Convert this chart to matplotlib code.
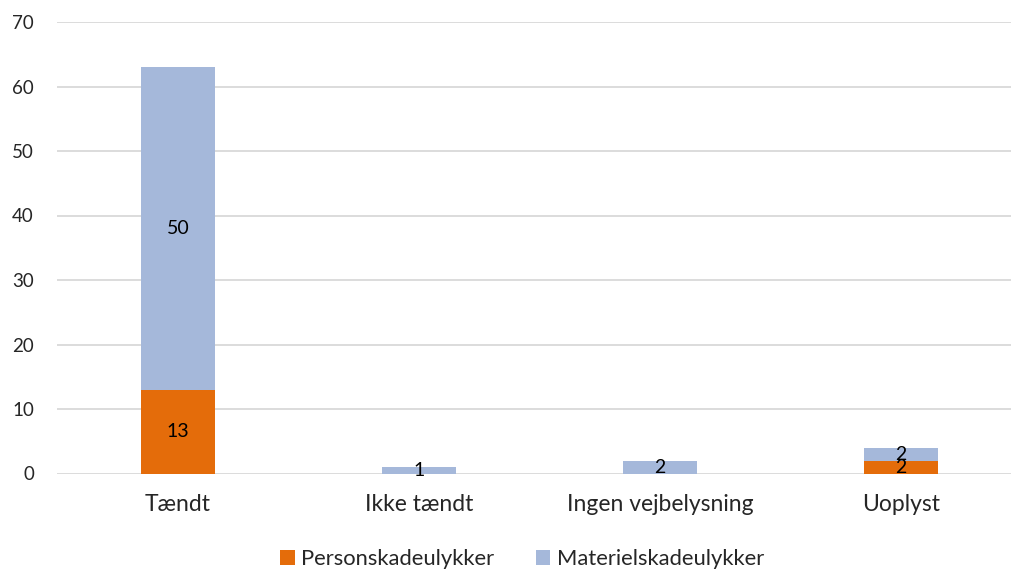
import matplotlib
matplotlib.use("Agg")
import matplotlib.pyplot as plt
import numpy as np

categories = ["Tændt", "Ikke tændt", "Ingen vejbelysning", "Uoplyst"]
person = [13, 0, 0, 2]
materiel = [50, 1, 2, 2]
series_names = ["Personskadeulykker", "Materielskadeulykker"]
yticks = [0, 10, 20, 30, 40, 50, 60, 70]

plt.rcParams['font.family'] = ['Lato', 'DejaVu Sans']
c_orange = "#E46C0A"
c_blue = "#A5B8DA"

fig = plt.figure(figsize=(10.12, 5.69), dpi=100)
ax = fig.add_axes([57.5/1012, 95.5/569, 964/1012, 451.5/569])
x = np.arange(len(categories))
w = 0.31
b1 = ax.bar(x, person, w, color=c_orange, label=series_names[0], zorder=3)
b2 = ax.bar(x, materiel, w, bottom=person, color=c_blue, label=series_names[1], zorder=3)

for i in range(len(categories)):
    if person[i] > 0:
        ax.text(x[i], person[i]/2, str(person[i]), ha='center', va='center', fontsize=14, color='black', zorder=4)
    if materiel[i] > 0:
        ax.text(x[i], person[i] + materiel[i]/2, str(materiel[i]), ha='center', va='center', fontsize=14, color='black', zorder=4)

ax.set_xlim(-0.5, len(categories) - 0.5)
ax.set_ylim(0, 70)
ax.set_yticks(yticks)
ax.set_yticklabels([str(t) for t in yticks], fontsize=13.5, color='#262626')
ax.set_xticks(x)
ax.set_xticklabels(categories, fontsize=16.5, color='#262626')
ax.tick_params(axis='both', length=0)
ax.tick_params(axis='x', pad=15)
ax.tick_params(axis='y', pad=17)
for s in ax.spines.values():
    s.set_visible(False)
ax.yaxis.grid(True, color='#D9D9D9', linewidth=1.3, zorder=0)
ax.set_axisbelow(True)

leg = fig.legend(handles=[b1, b2], labels=series_names, loc='center', bbox_to_anchor=(0.516, 10/569),
                 ncol=2, frameon=False, fontsize=15.8, handlelength=0.65, handleheight=0.65,
                 handletextpad=0.3, columnspacing=1.9)
for t in leg.get_texts():
    t.set_color('#262626')

fig.savefig("out.png", dpi=100)
